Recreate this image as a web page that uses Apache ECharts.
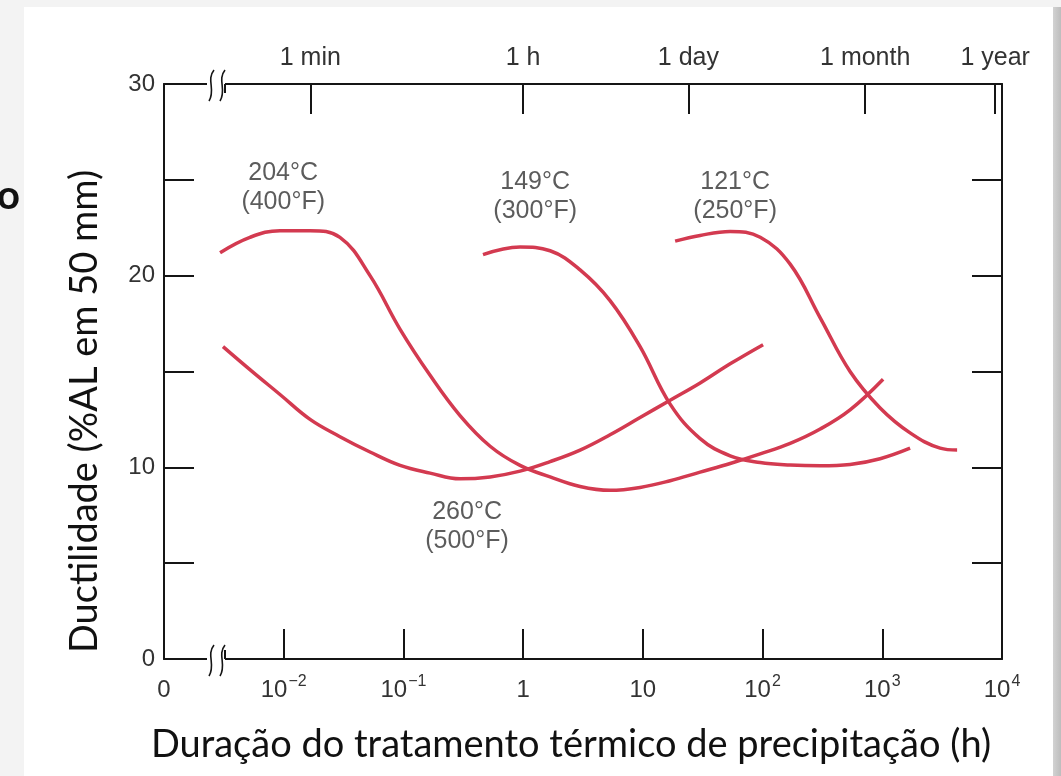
<!DOCTYPE html>
<html>
<head>
<meta charset="utf-8">
<script src="https://cdn.jsdelivr.net/npm/echarts@6.0.0/dist/echarts.min.js"></script>
<style>
  html, body { margin: 0; padding: 0; background: #f3f3f3; }
  #chart { width: 1061px; height: 776px; }
</style>
</head>
<body>
<div id="chart"></div>
<script>
// tempo em horas, ductilidade em %AL
const hours204 = [0.00294, 0.00522, 0.00931, 0.0166, 0.0295, 0.0526, 0.0938, 0.167, 0.297, 0.530, 0.942, 1.68, 2.99, 5.32, 9.48, 16.9, 30.1, 53.6, 95.5, 170, 303, 538, 1016];
const duct204  = [21.2, 22.0, 22.35, 22.35, 22.0, 20.0, 17.2, 14.8, 12.7, 11.1, 10.1, 9.5, 9.0, 8.8, 8.95, 9.3, 9.75, 10.2, 10.7, 11.25, 12.0, 13.0, 14.6];

const hours149 = [0.462, 0.942, 1.68, 2.99, 5.32, 9.48, 16.9, 30.1, 53.6, 95.5, 170, 303, 538, 959, 1707];
const duct149  = [21.1, 21.5, 21.3, 20.3, 18.7, 16.3, 13.3, 11.5, 10.6, 10.25, 10.12, 10.08, 10.15, 10.45, 11.0];

const hours121 = [18.6, 30.1, 53.6, 95.5, 170, 303, 538, 959, 1707, 3041, 4217];
const duct121  = [21.8, 22.1, 22.3, 22.0, 20.6, 17.8, 15.0, 13.1, 11.8, 11.0, 10.9];

const hours260 = [0.00311, 0.00522, 0.00931, 0.0166, 0.0295, 0.0526, 0.0938, 0.167, 0.297, 0.530, 0.942, 1.68, 2.99, 5.32, 9.48, 16.9, 30.1, 53.6, 101];
const duct260  = [16.3, 15.1, 13.8, 12.5, 11.6, 10.8, 10.1, 9.7, 9.4, 9.5, 9.8, 10.3, 10.9, 11.7, 12.6, 13.5, 14.4, 15.4, 16.4];

// rótulos das curvas (posição em horas / %AL)
const curveLabels = ['204°C\n(400°F)', '149°C\n(300°F)', '121°C\n(250°F)', '260°C\n(500°F)'];
const labelHours  = [0.0099, 1.26, 59, 0.34];
const labelDuct   = [24.6, 24.1, 24.1, 6.9];

// eixo inferior (expoentes de 10) e eixo superior
const bottomExps = [-3, -2, -1, 0, 1, 2, 3, 4];
const tickExps   = [-2, -1, 0, 1, 2, 3];
const topNames   = ['1 min', '1 h', '1 day', '1 month', '1 year'];
const topHours   = [1 / 60, 1, 24, 720, 8760];

const RED = '#d33a50';
const INK = '#151515';
const TXT = '#333';
const FONT = 'Liberation Sans';

const toPts = (hs, ds) => hs.map((h, i) => [Math.log10(h), ds[i]]);

function lineSeries(name, hs, ds) {
  return {
    name: name,
    type: 'line',
    data: toPts(hs, ds),
    smooth: 0.4,
    showSymbol: false,
    lineStyle: { color: RED, width: 3.5 },
    z: 3
  };
}

function bottomLabel(v) {
  if (v === -3) return '{b|0}';
  if (v === 0) return '{b|1}';
  if (v === 1) return '{b|10}';
  return '{b|10}{s|' + (v < 0 ? '−' + (-v) : v) + '}';
}

const myChart = echarts.init(document.getElementById('chart'));

// quebra do eixo (decoração)
function breakMark(y) {
  return [
    { type: 'rect', shape: { x: 207, y: y - 3, width: 18, height: 6 }, style: { fill: '#fff' }, z: 10 },
    { type: 'bezierCurve', shape: { x1: 214, y1: y - 14, cpx1: 206, cpy1: y - 4, cpx2: 216, cpy2: y + 6, x2: 209, y2: y + 17 },
      style: { stroke: INK, lineWidth: 1.6, fill: null }, z: 11 },
    { type: 'bezierCurve', shape: { x1: 225, y1: y - 14, cpx1: 217, cpy1: y - 4, cpx2: 227, cpy2: y + 6, x2: 220, y2: y + 17 },
      style: { stroke: INK, lineWidth: 1.6, fill: null }, z: 11 },
    { type: 'line', shape: { x1: 225, y1: y, x2: 225, y2: y + (y < 300 ? 9 : -9) }, style: { stroke: INK, lineWidth: 2 }, z: 11 }
  ];
}

const axisLine = { show: true, onZero: false, lineStyle: { color: INK, width: 2 } };

myChart.setOption({
  backgroundColor: '#f3f3f3',
  animation: false,
  grid: { left: 164, right: 59, top: 84, bottom: 117 },
  graphic: [
    { type: 'rect', shape: { x: 24, y: 7, width: 1029, height: 769 }, style: { fill: '#fff' }, z: -10 },
    { type: 'rect', shape: { x: 1053, y: 7, width: 8, height: 769 },
      style: { fill: new echarts.graphic.LinearGradient(0, 0, 1, 0, [
        { offset: 0, color: '#d2d2d2' }, { offset: 1, color: '#bdbdbd' }]) }, z: -10 },
    { type: 'text', left: -3, top: 176, style: { text: 'o', font: 'bold 40px Lato', fill: '#111' }, z: 5 }
  ].concat(breakMark(84), breakMark(659)),
  xAxis: [
    {
      type: 'value',
      position: 'bottom',
      min: -3,
      max: 4,
      name: 'Duração do tratamento térmico de precipitação (h)',
      nameLocation: 'middle',
      nameGap: 67,
      nameTextStyle: { fontFamily: 'Lato', fontSize: 38, color: '#111', padding: [0, 24, 0, 0] },
      axisLine: axisLine,
      axisTick: { show: true, inside: true, length: 30, customValues: tickExps, lineStyle: { color: INK, width: 2 } },
      axisLabel: {
        customValues: bottomExps,
        margin: 15,
        formatter: bottomLabel,
        rich: {
          b: { fontFamily: FONT, fontSize: 24, color: TXT, lineHeight: 28, verticalAlign: 'bottom' },
          s: { fontFamily: FONT, fontSize: 16, color: TXT, lineHeight: 28, verticalAlign: 'top', padding: [0, 0, 9, 1] }
        }
      },
      splitLine: { show: false }
    },
    {
      type: 'value',
      position: 'top',
      min: -3,
      max: 4,
      axisLine: axisLine,
      axisTick: { show: true, inside: true, length: 30, customValues: topHours.map(h => Math.log10(h)), lineStyle: { color: INK, width: 2 } },
      axisLabel: {
        customValues: topHours.map(h => Math.log10(h)),
        margin: 13,
        fontFamily: FONT,
        fontSize: 25,
        color: TXT,
        formatter: function (v) {
          const i = topHours.findIndex(h => Math.abs(Math.log10(h) - v) < 1e-6);
          return i >= 0 ? topNames[i] : '';
        }
      },
      splitLine: { show: false }
    }
  ],
  yAxis: [
    {
      type: 'value',
      position: 'left',
      min: 0,
      max: 30,
      interval: 5,
      name: 'Ductilidade (%AL em 50 mm)',
      nameLocation: 'middle',
      nameGap: 60,
      nameRotate: 90,
      nameTextStyle: { fontFamily: 'Lato', fontSize: 38, color: '#111', padding: [0, 80, 0, 0] },
      axisLine: axisLine,
      axisTick: { show: true, inside: true, length: 30, lineStyle: { color: INK, width: 2 } },
      axisLabel: {
        margin: 9,
        fontFamily: FONT,
        fontSize: 24,
        color: TXT,
        formatter: v => (v % 10 === 0 ? String(v) : '')
      },
      splitLine: { show: false }
    },
    {
      type: 'value',
      position: 'right',
      min: 0,
      max: 30,
      interval: 5,
      axisLine: axisLine,
      axisTick: { show: true, inside: true, length: 30, lineStyle: { color: INK, width: 2 } },
      axisLabel: { show: false },
      splitLine: { show: false }
    }
  ],
  series: [
    lineSeries('204°C', hours204, duct204),
    lineSeries('149°C', hours149, duct149),
    lineSeries('121°C', hours121, duct121),
    lineSeries('260°C', hours260, duct260),
    {
      type: 'scatter',
      symbolSize: 0,
      data: labelHours.map((h, i) => ({ value: [Math.log10(h), labelDuct[i]], name: curveLabels[i] })),
      label: {
        show: true,
        position: 'inside',
        formatter: p => p.name,
        fontFamily: FONT,
        fontSize: 25,
        lineHeight: 29,
        color: TXT
      },
      silent: true,
      z: 4
    }
  ]
});
</script>
</body>
</html>
